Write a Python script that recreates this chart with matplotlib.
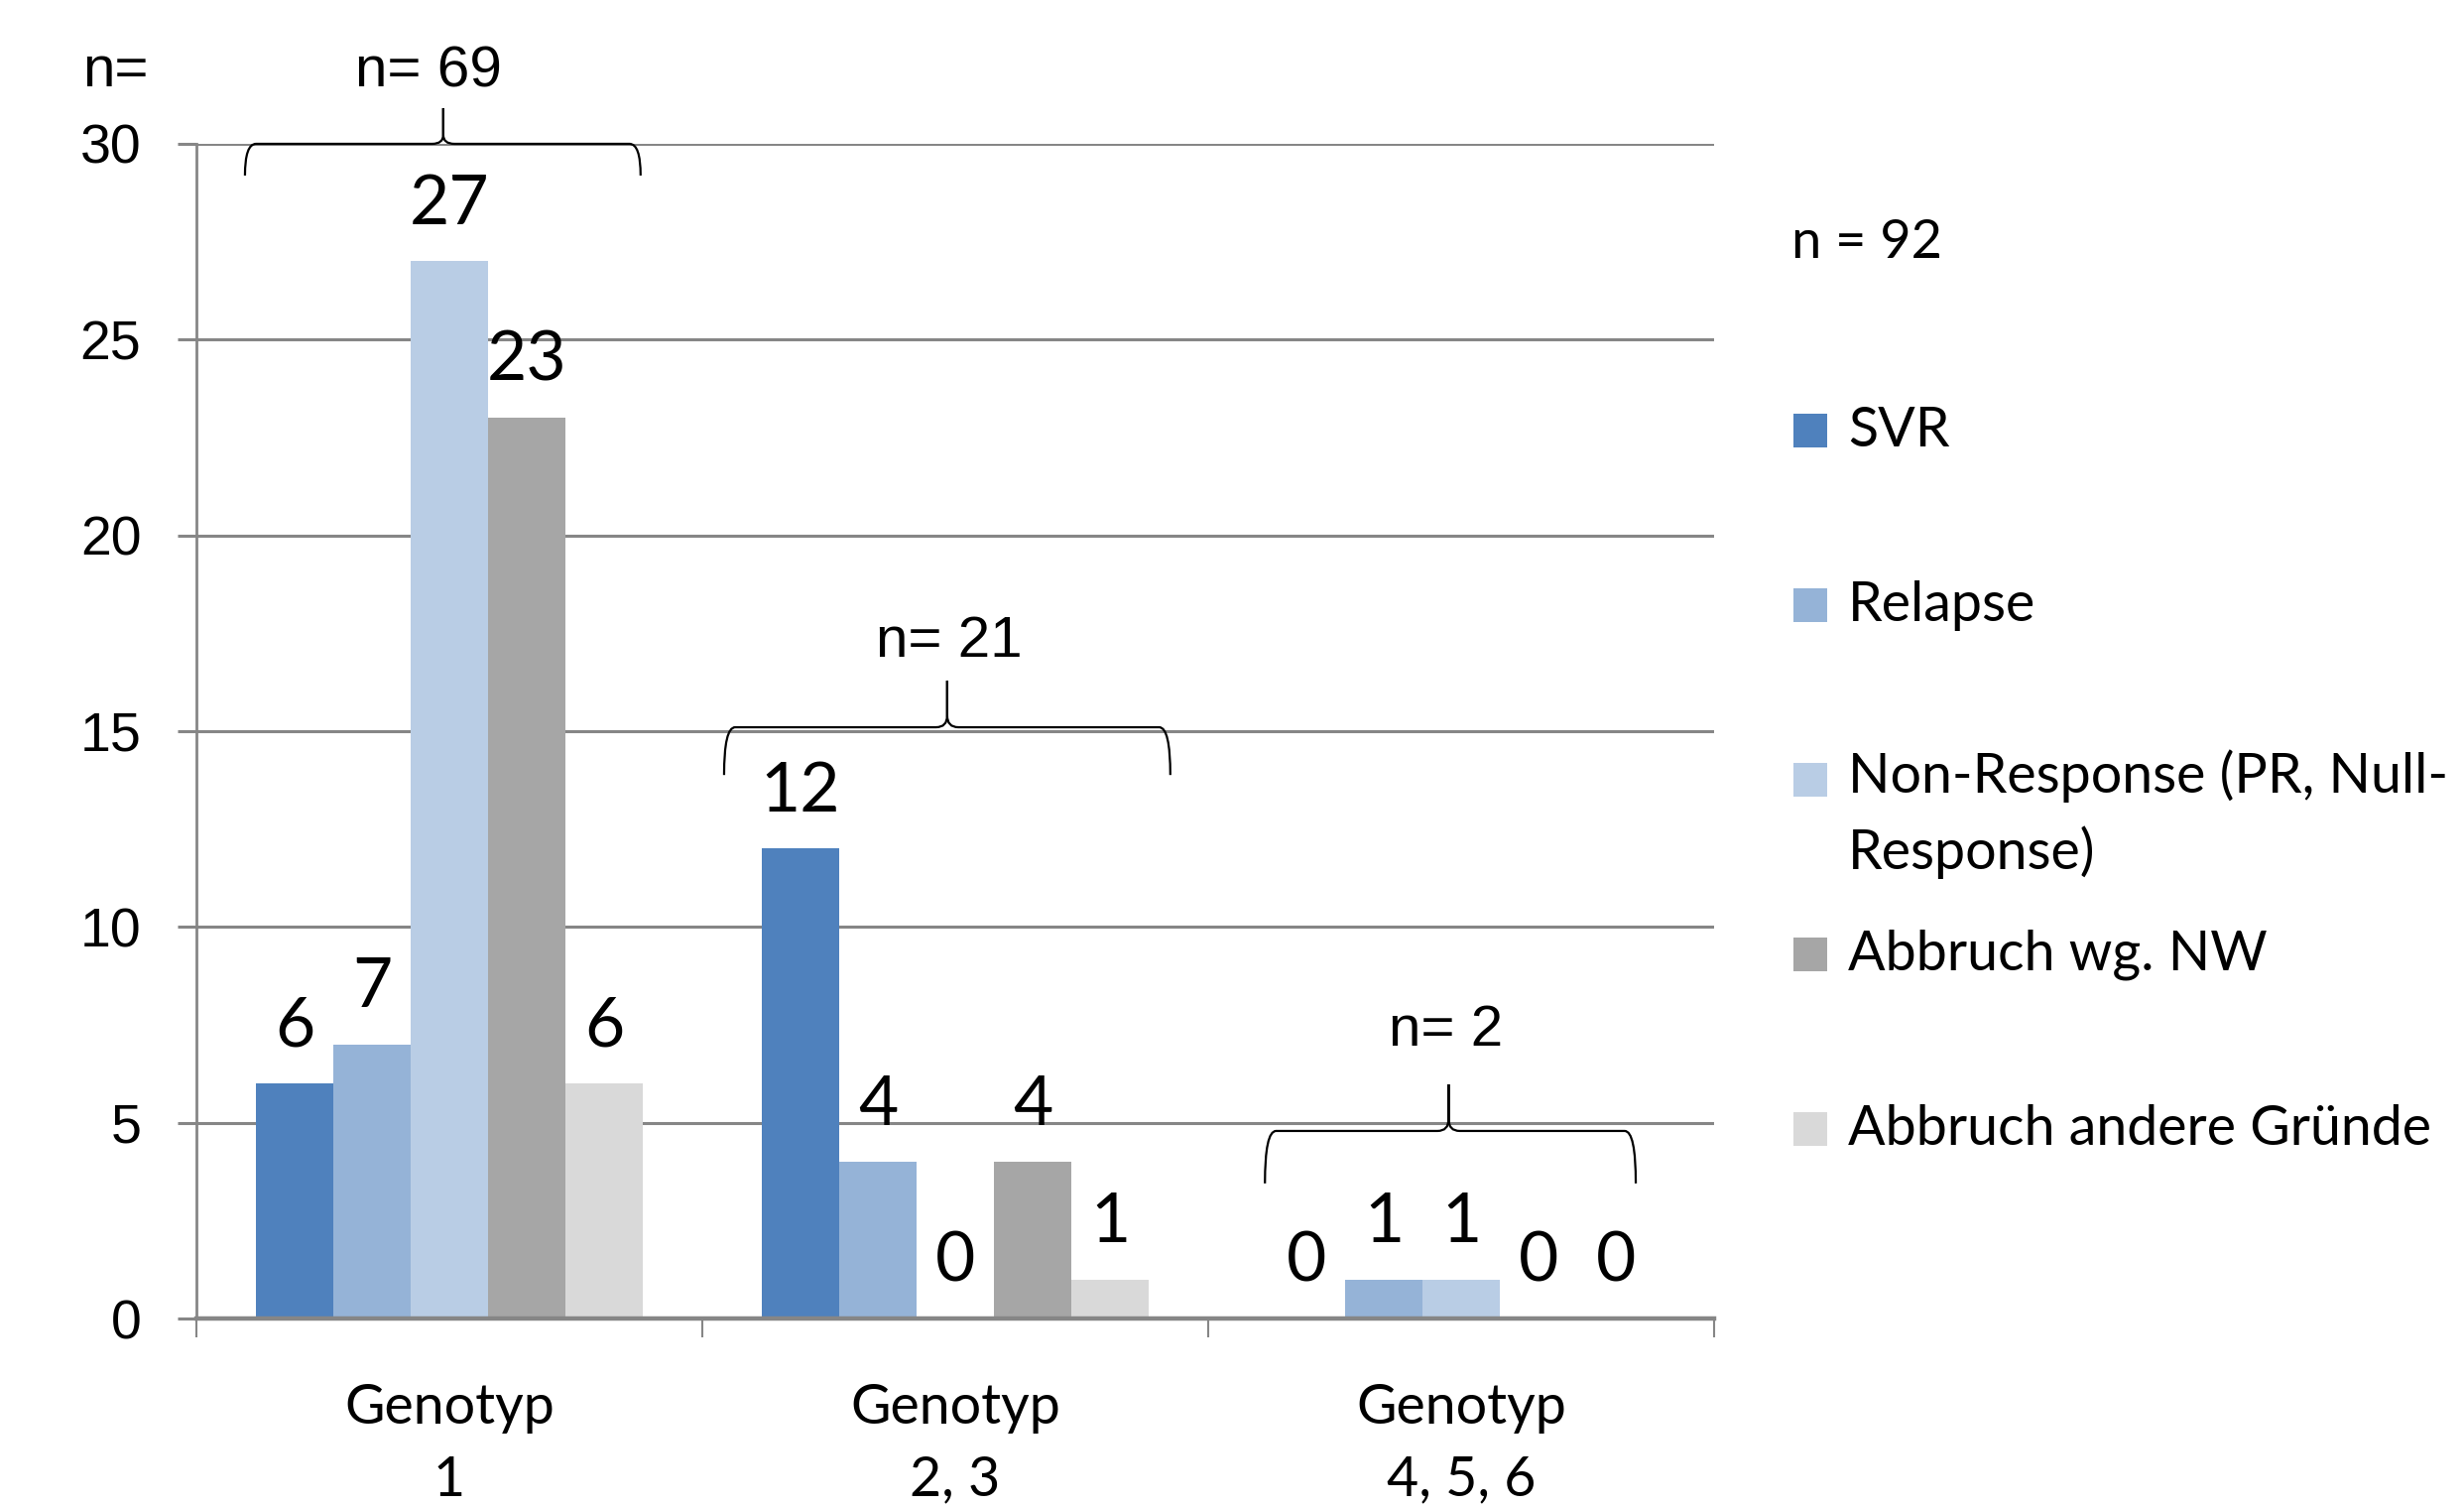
import matplotlib
matplotlib.use("Agg")
import matplotlib.pyplot as plt
from matplotlib.path import Path
from matplotlib.patches import PathPatch, Rectangle
import numpy as np

# Values per genotype group
genotypes = ["Genotyp\n1", "Genotyp\n2, 3", "Genotyp\n4, 5, 6"]
series_names = [
    "SVR",
    "Relapse",
    "Non-Response (PR, Null-\nResponse)",
    "Abbruch wg. NW",
    "Abbruch andere Gründe",
]
svr = [6, 12, 0]
relapse = [7, 4, 1]
non_response = [27, 0, 1]
abbruch_nw = [23, 4, 0]
abbruch_andere = [6, 1, 0]
group_n = [69, 21, 2]
total_n = 92

series_values = [svr, relapse, non_response, abbruch_nw, abbruch_andere]
colors = ["#4F81BD", "#95B3D7", "#B9CDE5", "#A6A6A6", "#D9D9D9"]

CALIBRI_LIKE = ["Lato", "DejaVu Sans"]
ARIAL_LIKE = ["Liberation Sans", "DejaVu Sans"]
GRID = "#868686"

fig = plt.figure(figsize=(24.84, 15.18), dpi=100)
ax = fig.add_axes([0.0797, 0.1245, 0.616, 0.78])

x = np.arange(len(genotypes))
bar_w = 0.153
for i, (vals, col) in enumerate(zip(series_values, colors)):
    offs = (i - 2) * bar_w
    ax.bar(x + offs, vals, bar_w, color=col, zorder=3, linewidth=0)
    for xb, v in zip(x + offs, vals):
        ax.annotate(str(v), (xb, v), xytext=(0, 41), textcoords="offset points",
                    ha="center", va="center", fontsize=50, family=CALIBRI_LIKE,
                    annotation_clip=False)

ax.set_xlim(-0.5, 2.5)
ax.set_ylim(0, 30)
ax.set_yticks(range(0, 31, 5))
ax.yaxis.grid(True, color=GRID, linewidth=2.2, zorder=0)
ax.set_axisbelow(True)

# category separators as major ticks, labels on minor ticks
ax.set_xticks([-0.5, 0.5, 1.5, 2.5])
ax.set_xticklabels([])
ax.set_xticks(x, minor=True)
ax.set_xticklabels(genotypes, minor=True, family=CALIBRI_LIKE, fontsize=40,
                   linespacing=1.52)
ax.tick_params(axis="x", which="major", length=14, width=1.5, color=GRID)
ax.tick_params(axis="x", which="minor", length=0, pad=47)
ax.tick_params(axis="y", length=14, width=2.2, color=GRID, pad=26)
for lbl in ax.get_yticklabels():
    lbl.set_family(ARIAL_LIKE)
    lbl.set_fontsize(40)

for side in ["top", "right"]:
    ax.spines[side].set_visible(False)
ax.spines["left"].set_color(GRID)
ax.spines["left"].set_linewidth(2.0)
ax.spines["bottom"].set_color(GRID)
ax.spines["bottom"].set_linewidth(3.2)
ax.spines["bottom"].set_zorder(4)


def brace(ax, xl, xr, xm, y, y_end, y_tip, r=0.022):
    """Curly brace opening downwards with its cusp pointing up."""
    yk = y + (y_tip - y) * 0.25
    verts = [
        (xl, y_end), (xl, y), (xl + r, y),
        (xm - r, y), (xm, y), (xm, yk),
        (xm, y_tip), (xm, yk),
        (xm, y), (xm + r, y),
        (xr - r, y), (xr, y), (xr, y_end),
    ]
    codes = [
        Path.MOVETO, Path.CURVE3, Path.CURVE3,
        Path.LINETO, Path.CURVE3, Path.CURVE3,
        Path.LINETO, Path.LINETO,
        Path.CURVE3, Path.CURVE3,
        Path.LINETO, Path.CURVE3, Path.CURVE3,
    ]
    ax.add_patch(PathPatch(Path(verts, codes), fill=False, lw=1.6,
                           edgecolor="black", clip_on=False, zorder=5))


# left/right/cusp offsets from group centre, line, end and cusp heights,
# label height and label offset
brace_specs = [
    (-0.404, 0.378, -0.012, 30.0, 29.19, 30.91, 31.84, -0.041),
    (-0.457, 0.425, -0.016, 15.10, 13.88, 16.29, 17.28, -0.012),
    (-0.388, 0.345, -0.025, 4.79, 3.45, 5.98, 7.35, -0.030),
]
for xc, n, spec in zip(x, group_n, brace_specs):
    xl, xr, xm, y, y_end, y_tip, y_lab, x_lab = spec
    brace(ax, xc + xl, xc + xr, xc + xm, y, y_end, y_tip)
    ax.text(xc + x_lab, y_lab, f"n= {n}", ha="center", va="center",
            fontsize=42, family=ARIAL_LIKE, clip_on=False)

ax.text(-0.053, 31.84, "n=", transform=ax.get_yaxis_transform(), ha="center",
        va="center", fontsize=42, family=ARIAL_LIKE)

# legend drawn by hand in figure pixels
W, H = 2484, 1518
fig.text(1806 / W, 1 - 244 / H, f"n = {total_n}", ha="left", va="center",
         fontsize=39, family=CALIBRI_LIKE)
legend_y = [434, 610, 786, 962, 1138]
for name, col, ly in zip(series_names, colors, legend_y):
    fig.patches.append(Rectangle((1808 / W, 1 - (ly + 17) / H), 34 / W, 34 / H,
                                 facecolor=col, edgecolor="none",
                                 transform=fig.transFigure))
    if "\n" in name:
        fig.text(1863 / W, 1 - (ly - 31) / H, name, ha="left", va="top",
                 fontsize=40, family=CALIBRI_LIKE, linespacing=1.55)
    else:
        fig.text(1863 / W, 1 - ly / H, name, ha="left", va="center",
                 fontsize=40, family=CALIBRI_LIKE)

fig.savefig("out.png", dpi=100)
